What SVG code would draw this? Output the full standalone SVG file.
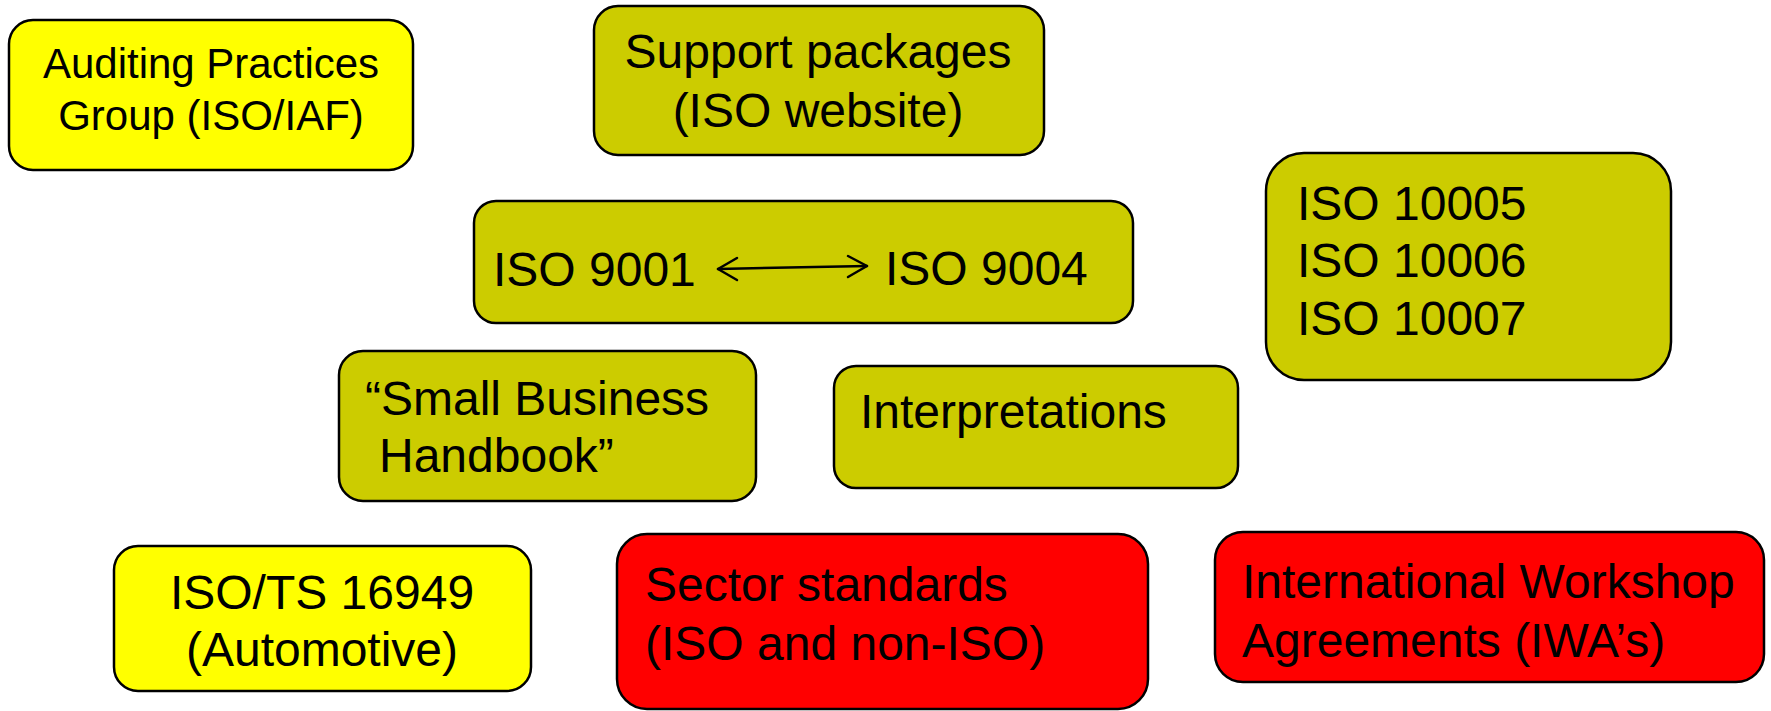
<svg xmlns="http://www.w3.org/2000/svg" width="1771" height="711" viewBox="0 0 1771 711">
<defs>
<style>
.box{stroke:#000;stroke-width:2.5}
.y{fill:#FFFF00}
.o{fill:#CCCC00}
.r{fill:#FF0000}
text{font-family:"Liberation Sans",Arial,sans-serif;font-size:48px;fill:#000}
.c{text-anchor:middle}
.sm{font-size:42px}
.arr{fill:none;stroke:#000;stroke-width:2.5;stroke-linecap:round;stroke-linejoin:round}
</style>
</defs>
<rect width="1771" height="711" fill="#fff"/>
<g id="apg">
<rect class="box y" x="9" y="20" width="404" height="150" rx="24"/>
<text class="c sm" x="211" y="78">Auditing Practices</text>
<text class="c sm" x="211" y="130">Group (ISO/IAF)</text>
</g>
<g id="support">
<rect class="box o" x="594" y="6" width="450" height="149" rx="24"/>
<text class="c" x="818" y="68">Support packages</text>
<text class="c" x="818" y="127">(ISO website)</text>
</g>
<g id="iso9001">
<rect class="box o" x="474" y="201" width="659" height="122" rx="22"/>
<text x="493" y="286">ISO 9001</text>
<text x="885" y="285">ISO 9004</text>
</g>
<g id="iso10005">
<rect class="box o" x="1266" y="153" width="405" height="227" rx="38"/>
<text x="1297" y="220">ISO 10005</text>
<text x="1297" y="277">ISO 10006</text>
<text x="1297" y="335">ISO 10007</text>
</g>
<g id="smallbusiness">
<rect class="box o" x="339" y="351" width="417" height="150" rx="24"/>
<text x="365" y="415">“Small Business</text>
<text x="379" y="472">Handbook”</text>
</g>
<g id="interpretations">
<rect class="box o" x="834" y="366" width="404" height="122" rx="22"/>
<text x="860" y="428">Interpretations</text>
</g>
<g id="isots">
<rect class="box y" x="114" y="546" width="417" height="145" rx="24"/>
<text class="c" x="322" y="609">ISO/TS 16949</text>
<text class="c" x="322" y="666">(Automotive)</text>
</g>
<g id="sector">
<rect class="box r" x="617" y="534" width="531" height="175" rx="30"/>
<text x="645" y="601">Sector standards</text>
<text x="645" y="660">(ISO and non-ISO)</text>
</g>
<g id="iwa">
<rect class="box r" x="1215" y="532" width="549" height="150" rx="28"/>
<text x="1242" y="598">International Workshop</text>
<text x="1242" y="657">Agreements (IWA’s)</text>
</g>
<g id="connectors">
<path class="arr" d="M718 269 L867 266"/>
<path class="arr" d="M737 258 L718 269 L737 280"/>
<path class="arr" d="M848 256 L867 266 L848 277"/>
</g>
</svg>
